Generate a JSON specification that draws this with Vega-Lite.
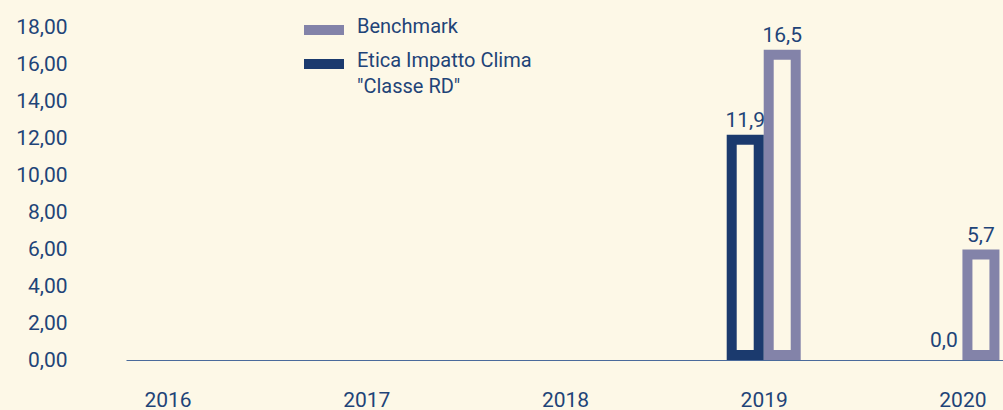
{
  "$schema": "https://vega.github.io/schema/vega-lite/v6.json",
  "width": 877,
  "height": 333,
  "autosize": {"type": "none"},
  "padding": {"left": 126, "top": 27, "right": 0, "bottom": 50},
  "background": "#fdf8e7",
  "config": {
    "view": {"stroke": null},
    "font": "Roboto",
    "locale": {"number": {"decimal": ",", "thousands": ".", "grouping": [3], "currency": ["", " €"]}}
  },
  "data": {
    "values": [
      {"year": 2019, "series": "Etica", "value": 11.9},
      {"year": 2019, "series": "Benchmark", "value": 16.5},
      {"year": 2020, "series": "Etica", "value": 0.0},
      {"year": 2020, "series": "Benchmark", "value": 5.7}
    ]
  },
  "encoding": {
    "x": {
      "field": "year", "type": "quantitative",
      "scale": {"domain": [2015.816, 2020.179], "nice": false, "zero": false},
      "axis": {"values": [2016, 2017, 2018, 2019, 2020], "format": "d", "title": null, "grid": false, "ticks": false, "tickSize": 0, "labelPadding": 29, "labelFontSize": 21, "labelColor": "#1f4478", "domainColor": "#4a6a9b", "domainWidth": 1.2, "labelFlush": false}
    },
    "y": {
      "field": "value", "type": "quantitative",
      "scale": {"domain": [0, 18], "nice": false},
      "axis": {"values": [0, 2, 4, 6, 8, 10, 12, 14, 16, 18], "format": ".2f", "title": null, "grid": false, "ticks": false, "tickSize": 0, "domain": false, "labelPadding": 59, "labelFontSize": 21, "labelColor": "#1f4478"}
    }
  },
  "layer": [
    {
      "transform": [{"filter": "datum.series == 'Benchmark' && datum.value > 0"}],
      "mark": {"type": "bar", "width": 37, "xOffset": 18.5, "yOffset": -5},
      "encoding": {
        "y2": {"datum": 0},
        "color": {
          "field": "series", "type": "nominal",
          "scale": {"domain": ["Benchmark", "Etica"], "range": ["#8383a9", "#1b3a6e"]},
          "legend": {
            "orient": "none", "legendX": 178, "legendY": -17, "title": null,
            "symbolType": "M-1,-0.25L1,-0.25L1,0.25L-1,0.25Z", "symbolSize": 1600, "symbolStrokeWidth": 0,
            "labelFont": "Roboto", "labelFontSize": 20, "labelColor": "#1f4478", "labelOffset": 13, "rowPadding": 7, "labelLimit": 400,
            "labelExpr": "datum.label == 'Etica' ? ['Etica Impatto Clima', '\"Classe RD\"'] : datum.label",
            "encode": {"labels": {"update": {"lineHeight": {"value": 26}, "dy": {"value": -3}}}}
          }
        }
      }
    },
    {
      "transform": [{"filter": "datum.series == 'Etica' && datum.value > 0"}],
      "mark": {"type": "bar", "width": 37, "xOffset": -18.5, "yOffset": -5},
      "encoding": {
        "y2": {"datum": 0},
        "color": {"field": "series", "type": "nominal"}
      }
    },
    {
      "transform": [{"filter": "datum.series == 'Benchmark' && datum.value > 0"}],
      "mark": {"type": "bar", "width": 17, "xOffset": 18.5, "yOffset": 5, "y2Offset": -10, "fill": "#fdf8e7"},
      "encoding": {"y2": {"datum": 0}}
    },
    {
      "transform": [{"filter": "datum.series == 'Etica' && datum.value > 0"}],
      "mark": {"type": "bar", "width": 17, "xOffset": -18.5, "yOffset": 5, "y2Offset": -10, "fill": "#fdf8e7"},
      "encoding": {"y2": {"datum": 0}}
    },
    {
      "transform": [{"filter": "datum.series == 'Benchmark'"}],
      "mark": {"type": "text", "xOffset": 18.5, "dy": -13, "baseline": "alphabetic", "fontSize": 21, "color": "#1f4478"},
      "encoding": {"text": {"field": "value", "type": "quantitative", "format": ".1f"}}
    },
    {
      "transform": [{"filter": "datum.series == 'Etica'"}],
      "mark": {"type": "text", "xOffset": -18.5, "dy": -13, "baseline": "alphabetic", "fontSize": 21, "color": "#1f4478"},
      "encoding": {"text": {"field": "value", "type": "quantitative", "format": ".1f"}}
    }
  ]
}
